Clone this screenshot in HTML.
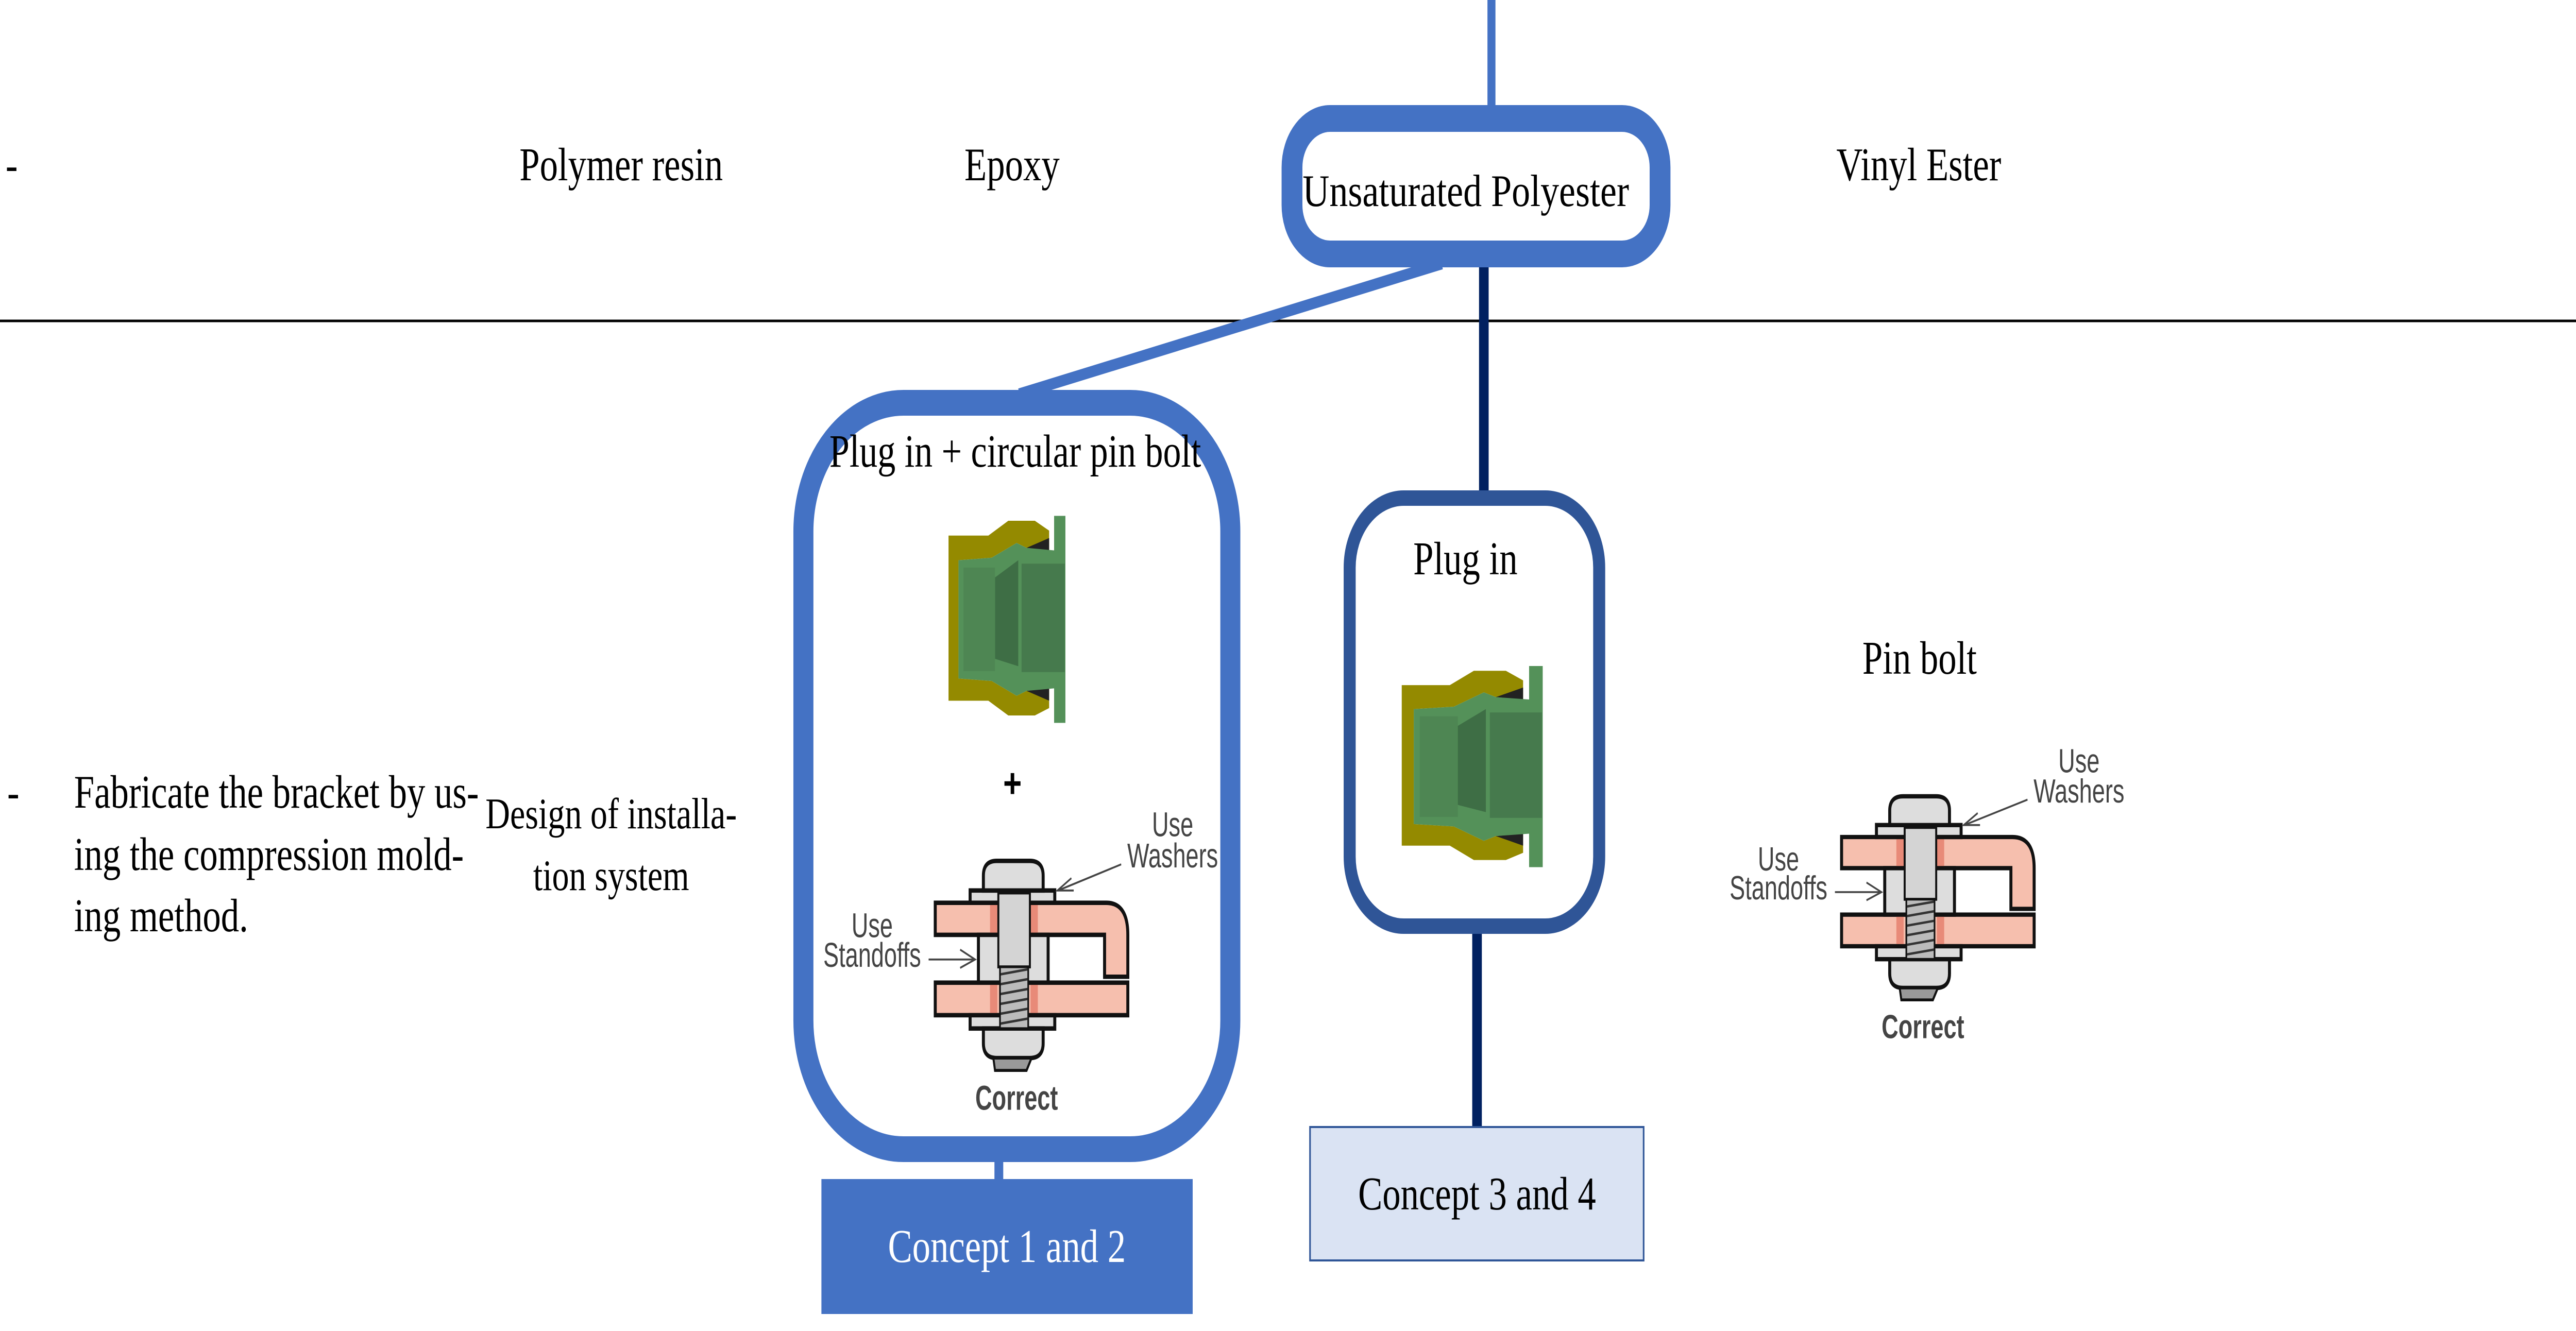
<!DOCTYPE html>
<html><head><meta charset="utf-8"><style>
html,body{margin:0;padding:0;background:#fff;overflow:hidden;width:100%;height:100%;}
svg{display:block;width:100vw;height:100vh;}
</style></head><body>
<svg viewBox="0 0 6432 2584" preserveAspectRatio="none" xmlns="http://www.w3.org/2000/svg">
<defs>
<g id="plug">
 <path d="M565,355 L685,355 L745,325 L825,325 L868,345 L868,385 L800,380 L770,370 L695,400 L595,405 L595,645 L695,650 L770,680 L800,670 L868,665 L868,705 L825,720 L745,720 L685,690 L565,690 Z" fill="#948a00"/>
 <path d="M800,380 L868,385 L868,360 Z M800,670 L868,665 L868,690 Z" fill="#222"/>
 <path d="M595,405 L695,400 L770,370 L800,380 L883,385 L883,315 L917,315 L917,735 L883,735 L883,665 L800,670 L770,680 L695,650 L595,645 Z" fill="#549159"/>
 <path d="M705,440 L775,405 L775,620 L705,605 Z" fill="#3e6e45"/>
 <rect x="785" y="412" width="130" height="220" fill="#467a4d"/>
 <rect x="610" y="420" width="95" height="210" fill="#4e8653"/>
</g>
<g id="boltshape">
 <path d="M525,1100 L1040,1100 Q1105,1100 1105,1165 L1105,1250 L1035,1250 L1035,1165 L525,1165 Z" fill="#f6bfae" stroke="#111" stroke-width="9"/>
 <rect x="525" y="1262" width="580" height="66" fill="#f6bfae" stroke="#111" stroke-width="9"/>
 <rect x="690" y="1100" width="22" height="65" fill="#e88a78"/><rect x="812" y="1100" width="22" height="65" fill="#e88a78"/>
 <rect x="690" y="1262" width="22" height="66" fill="#e88a78"/><rect x="812" y="1262" width="22" height="66" fill="#e88a78"/>
 <rect x="655" y="1165" width="210" height="97" fill="#ddd" stroke="#111" stroke-width="9"/>
 <rect x="630" y="1075" width="255" height="25" fill="#ddd" stroke="#111" stroke-width="9"/>
 <rect x="630" y="1328" width="255" height="27" fill="#ddd" stroke="#111" stroke-width="9"/>
 <path d="M670,1075 L670,1045 Q670,1015 710,1015 L810,1015 Q850,1015 850,1045 L850,1075 Z" fill="#ddd" stroke="#111" stroke-width="9"/>
 <path d="M670,1355 L670,1385 Q670,1415 710,1415 L810,1415 Q850,1415 850,1385 L850,1355 Z" fill="#ddd" stroke="#111" stroke-width="9"/>
 <path d="M700,1415 L705,1440 L800,1440 L815,1415 Z" fill="#999" stroke="#111" stroke-width="6"/>
 <rect x="715" y="1080" width="95" height="150" fill="#d4d4d4" stroke="#111" stroke-width="6"/>
 <rect x="720" y="1230" width="85" height="125" fill="#bbb" stroke="#111" stroke-width="5"/>
 <g stroke="#333" stroke-width="5"><line x1="722" y1="1245" x2="803" y2="1235"/><line x1="722" y1="1265" x2="803" y2="1255"/><line x1="722" y1="1285" x2="803" y2="1275"/><line x1="722" y1="1305" x2="803" y2="1295"/><line x1="722" y1="1325" x2="803" y2="1315"/><line x1="722" y1="1345" x2="803" y2="1335"/></g>
 <line x1="1085" y1="1022" x2="895" y2="1075" stroke="#444" stroke-width="4"/>
 <path d="M935,1050 L893,1075 L942,1075" fill="none" stroke="#444" stroke-width="4"/>
 <line x1="505" y1="1215" x2="645" y2="1215" stroke="#444" stroke-width="4"/>
 <path d="M600,1195 L645,1215 L600,1232" fill="none" stroke="#444" stroke-width="4"/>
</g>
</defs>

<rect x="0" y="0" width="6432" height="2584" fill="#fff"/>
<line x1="0" y1="623" x2="6432" y2="623" stroke="#000" stroke-width="5"/>
<g font-family="Liberation Serif, serif" font-size="91" fill="#000">
<text x="14" y="350">-</text>
<text x="1551" y="350" text-anchor="middle">Polymer resin</text>
<text x="2527" y="350" text-anchor="middle">Epoxy</text>
<text x="4791" y="350" text-anchor="middle">Vinyl Ester</text>
</g>

<line x1="3724" y1="0" x2="3724" y2="215" stroke="#4472c4" stroke-width="20"/>
<line x1="3600" y1="512" x2="2545" y2="765" stroke="#4472c4" stroke-width="22"/>
<line x1="3705" y1="490" x2="3705" y2="960" stroke="#002060" stroke-width="24"/>
<line x1="3688" y1="1810" x2="3688" y2="2190" stroke="#002060" stroke-width="24"/>
<line x1="2494" y1="2250" x2="2494" y2="2292" stroke="#4472c4" stroke-width="22"/>

<rect x="3226" y="230" width="919" height="263" rx="95" ry="95" fill="#fff" stroke="#4472c4" stroke-width="52"/>
<text x="3660" y="400" font-family="Liberation Serif, serif" font-size="88" text-anchor="middle" textLength="815" lengthAdjust="spacingAndGlyphs">Unsaturated Polyester</text>

<g font-family="Liberation Serif, serif" font-size="91" fill="#000">
<text x="18" y="1568">-</text>
<text x="185" y="1568">Fabricate the bracket by us-</text>
<text x="185" y="1689">ing the compression mold-</text>
<text x="185" y="1808">ing method.</text>
</g>
<g font-family="Liberation Serif, serif" font-size="85" fill="#000">
<text x="1526" y="1608" text-anchor="middle">Design of installa-</text>
<text x="1526" y="1728" text-anchor="middle">tion system</text>
</g>

<rect x="2006" y="782" width="1066" height="1449" rx="250" ry="250" fill="#fff" stroke="#4472c4" stroke-width="50"/>
<text x="2535" y="906" font-family="Liberation Serif, serif" font-size="90" text-anchor="middle">Plug in + circular pin bolt</text>
<use href="#plug" transform="translate(1900,700) scale(0.829,0.957)"/>
<text x="2528" y="1548" font-family="Liberation Sans, sans-serif" font-size="80" font-weight="bold" text-anchor="middle">+</text>

<g transform="translate(1900,700) scale(0.829,0.957)" font-family="Liberation Sans, sans-serif" fill="#444">
 <use href="#boltshape"/>
 <text x="1240" y="965" font-size="70" text-anchor="middle">Use</text>
 <text x="1240" y="1028" font-size="70" text-anchor="middle">Washers</text>
 <text x="335" y="1170" font-size="70" text-anchor="middle">Use</text>
 <text x="335" y="1230" font-size="70" text-anchor="middle">Standoffs</text>
 <text x="770" y="1520" font-size="70" font-weight="bold" text-anchor="middle">Correct</text>
</g>

<rect x="2051" y="2289" width="927" height="262" fill="#4472c4"/>
<text x="2514" y="2450" font-family="Liberation Serif, serif" font-size="91" fill="#fff" text-anchor="middle">Concept 1 and 2</text>

<rect x="3370" y="967" width="623" height="831" rx="135" ry="135" fill="#fff" stroke="#2f5597" stroke-width="30"/>
<text x="3659" y="1115" font-family="Liberation Serif, serif" font-size="91" text-anchor="middle">Plug in</text>
<use href="#plug" transform="translate(2935,1000) scale(1,0.93)"/>

<rect x="3271" y="2188" width="833" height="259" fill="#dae3f3" stroke="#2f5597" stroke-width="4"/>
<text x="3688" y="2348" font-family="Liberation Serif, serif" font-size="91" fill="#000" text-anchor="middle">Concept 3 and 4</text>

<text x="4793" y="1308" font-family="Liberation Serif, serif" font-size="91" text-anchor="middle">Pin bolt</text>
<g transform="translate(4163,602) scale(0.829,0.93)" font-family="Liberation Sans, sans-serif" fill="#444">
 <use href="#boltshape"/>
 <text x="1240" y="965" font-size="70" text-anchor="middle">Use</text>
 <text x="1240" y="1028" font-size="70" text-anchor="middle">Washers</text>
 <text x="335" y="1170" font-size="70" text-anchor="middle">Use</text>
 <text x="335" y="1230" font-size="70" text-anchor="middle">Standoffs</text>
 <text x="770" y="1520" font-size="70" font-weight="bold" text-anchor="middle">Correct</text>
</g>
</svg>
</body></html>
